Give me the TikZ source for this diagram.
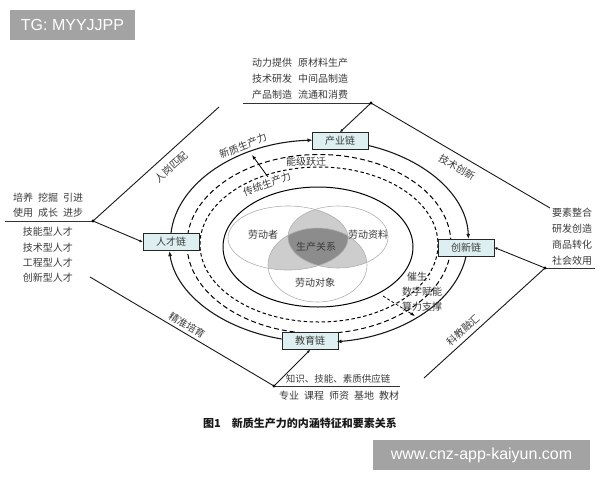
\documentclass[tikz,border=0pt]{standalone}
\usepackage{fontspec}
\setmainfont{Liberation Sans}
\newfontfamily\cjk{Noto Sans CJK SC}
\usetikzlibrary{arrows.meta}
\definecolor{boxc}{HTML}{DDEFF0}
\definecolor{lite}{HTML}{CDCDCD}
\definecolor{darkg}{HTML}{8C8C8C}
\definecolor{wmc}{HTML}{A3A3A3}
\definecolor{txt}{HTML}{3A3A3A}
\definecolor{vennline}{HTML}{B0B0B0}
\begin{document}
\begin{tikzpicture}[x=1pt,y=-1pt,
  font=\cjk\fontsize{10}{12}\selectfont,
  chainbox/.style={draw=black!85, fill=boxc, line width=0.8pt, minimum width=56pt, minimum height=17pt, inner sep=0pt, text=txt},
  lbl/.style={text=txt, inner sep=0pt},
  ring/.style={line width=1.1pt, draw=black!90},
  ringarrow/.style={-{Latex[length=5pt,width=4pt]}},
  link/.style={line width=0.9pt, draw=black!90},
  uline/.style={line width=0.7pt, draw=black!80},
  linkarrow/.style={-{Latex[length=3pt,width=3pt]}},
  venn/.style={draw=vennline, line width=0.6pt},
  wmbox/.style={fill=wmc, text=white, inner sep=0pt, font=\normalfont\fontsize{16}{18}\selectfont},
]
\useasboundingbox (0,0) rectangle (600,480);
\fill[white] (0,0) rectangle (600,480);

% watermarks
\node[wmbox, minimum width=125pt, minimum height=30pt] (wm1) at (72.5,25) {TG: MYYJJPP};
\node[wmbox, minimum width=217pt, minimum height=30pt] (wm2) at (481.5,455) {www.cnz-app-kaiyun.com};

% dashed and inner rings
\draw[line width=1pt, dash pattern=on 5pt off 3pt] (319,244) ellipse [x radius=132, y radius=89.5];
\draw[line width=1pt, dash pattern=on 3.5pt off 2.5pt] (319,244.5) ellipse [x radius=119, y radius=77.5];
\draw[line width=1pt] (318,247) ellipse [x radius=95, y radius=60];

% venn
\begin{scope}
  \clip (288,238) ellipse [x radius=60, y radius=32];
  \fill[lite] (338,237) ellipse [x radius=50, y radius=31];
  \fill[lite] (317.5,265) ellipse [x radius=49.5, y radius=37];
\end{scope}
\begin{scope}
  \clip (338,237) ellipse [x radius=50, y radius=31];
  \fill[lite] (317.5,265) ellipse [x radius=49.5, y radius=37];
\end{scope}
\begin{scope}
  \clip (288,238) ellipse [x radius=60, y radius=32];
  \clip (338,237) ellipse [x radius=50, y radius=31];
  \fill[darkg] (317.5,265) ellipse [x radius=49.5, y radius=37];
\end{scope}
\draw[venn] (288,238) ellipse [x radius=60, y radius=32];
\draw[venn] (338,237) ellipse [x radius=50, y radius=31];
\draw[venn] (317.5,265) ellipse [x radius=49.5, y radius=37];
\node[lbl] (ldz) at (263,235) {劳动者};
\node[lbl] (ldzl) at (368,235) {劳动资料};
\node[lbl] (scgx) at (316,247) {生产关系};
\node[lbl] (lddx) at (315,283) {劳动对象};

% chain boxes
\node[chainbox] (cy) at (340,141) {产业链};
\node[chainbox] (rc) at (171,242) {人才链};
\node[chainbox] (cx) at (466,247.5) {创新链};
\node[chainbox] (ed) at (310,341) {教育链};

% outer ring arcs
\draw[ring, ringarrow] (rc.north) arc[start angle=184.5, end angle=267.3, x radius=149, y radius=101];
\draw[ring, ringarrow] ([yshift=-4.5pt]cy.east) arc[start angle=289.2, end angle=358.9, x radius=149, y radius=101];
\draw[ring, ringarrow] (cx.south) arc[start angle=8.5, end angle=83.1, x radius=149, y radius=101];
\draw[ring, ringarrow] ([yshift=2pt]ed.west) arc[start angle=104, end angle=174.3, x radius=149, y radius=101];

% ring labels
\node[lbl, rotate=22] (xz) at (243,146) {新质生产力};
\node[lbl, rotate=20] (ct) at (267,184) {传统生产力};
\node[lbl] (nj) at (306,162) {能级跃迁};
\coordinate (up1) at (268,177);
\coordinate (up2) at (252,155);
\draw[line width=0.8pt, -{Latex[length=4.5pt,width=3.5pt]}] (up1) -- (up2);
\node[lbl, align=center, font=\cjk\fontsize{10}{15}\selectfont] (cs) at (422,292) {催生：\\数字赋能\\算力支撑};
\coordinate (dn1) at (383,296);
\coordinate (dn2) at (415,316);
\draw[line width=0.8pt, dash pattern=on 3pt off 2pt, -{Latex[length=4.5pt,width=3.5pt]}] (dn1) -- (dn2);

% connector geometry
\coordinate (tdot) at (371,103);
\coordinate (tline) at (243,103);
\coordinate (tend) at (550,208);
\coordinate (ldot) at (93,221);
\coordinate (lline) at (5,221);
\coordinate (ltop) at (219,107);
\coordinate (lbot) at (90,277);
\coordinate (bdot) at (274,386);
\coordinate (bline) at (400,386);
\coordinate (rdot) at (545,268);
\coordinate (rline) at (595,268);
\coordinate (rbot) at (424,378);

\draw[uline] (tline) -- (tdot);
\draw[link] (tdot) -- (tend);
\draw[link, linkarrow] (tdot) -- (cy.north);
\draw[uline] (lline) -- (ldot);
\draw[link] (ldot) -- (ltop);
\draw[link, linkarrow] (ldot) -- (rc.west);
\draw[link] (lbot) -- (bdot);
\draw[uline] (bdot) -- (bline);
\draw[link, linkarrow] (bdot) -- (ed.south);
\draw[uline] (rdot) -- (rline);
\draw[link] (rdot) -- (rbot);
\draw[link, linkarrow] (rdot) -- (cx.east);
\foreach \p in {tdot,ldot,bdot,rdot} \fill (\p) circle[radius=1.7pt];

% diamond labels
\node[lbl, rotate=42] (rg) at (171,167) {人岗匹配};
\node[lbl, rotate=-30.4] (js) at (457,167) {技术创新};
\node[lbl, rotate=-30.6] (jz) at (187,325) {精准培育};
\node[lbl, rotate=42] (kj) at (463,330) {科教融汇};

% text blocks
\node[lbl, align=left, anchor=west, font=\cjk\fontsize{10}{16}\selectfont] (topt) at (252,79)
  {动力提供\hspace{0.6em}原材料生产\\技术研发\hspace{0.6em}中间品制造\\产品制造\hspace{0.6em}流通和消费};
\node[lbl, align=left, anchor=west, font=\cjk\fontsize{10}{15}\selectfont] (lt) at (13,205.5)
  {培养\hspace{0.5em}挖掘\hspace{0.5em}引进\\使用\hspace{0.5em}成长\hspace{0.5em}进步};
\node[lbl, align=center, font=\cjk\fontsize{10}{15.3}\selectfont] (lb) at (48,255)
  {技能型人才\\技术型人才\\工程型人才\\创新型人才};
\node[lbl, align=center, font=\cjk\fontsize{10}{16}\selectfont] (rt) at (572,237)
  {要素整合\\研发创造\\商品转化\\社会效用};
\node[lbl, font=\cjk\fontsize{9.5}{12}\selectfont] (bt) at (338,379) {知识、技能、素质供应链};
\node[lbl] (bb) at (339,396) {专业\hspace{0.5em}课程\hspace{0.5em}师资\hspace{0.5em}基地\hspace{0.5em}教材};

% caption
\node[inner sep=0pt, text=black!90, font=\cjk\bfseries\fontsize{11}{13}\selectfont] (cap) at (300,423)
  {图1\hspace{1em}新质生产力的内涵特征和要素关系};
\end{tikzpicture}
\end{document}
